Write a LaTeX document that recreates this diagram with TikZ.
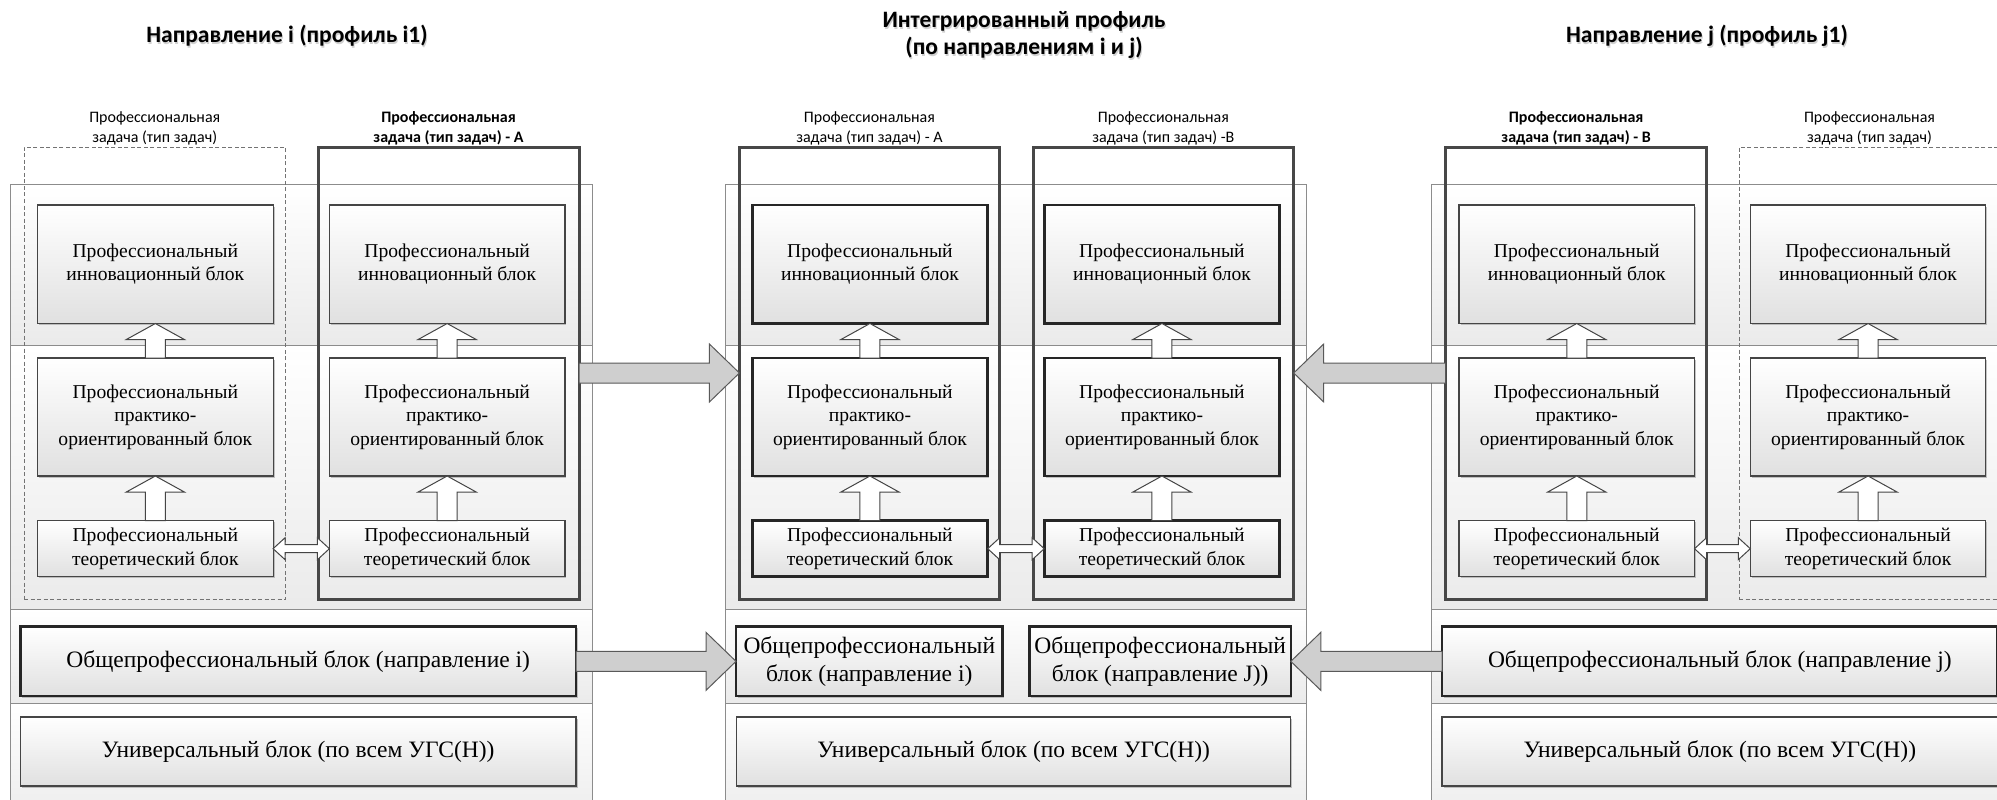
\documentclass[tikz,border=0pt]{standalone}
\usepackage{fontspec}
\setmainfont{Liberation Serif}
\newfontfamily\calfont{Carlito}
\usetikzlibrary{calc,shadows}
\definecolor{edgec}{HTML}{454545}
\definecolor{paneledge}{HTML}{8C8C8C}
\definecolor{arrowfill}{HTML}{CFCFCF}
\tikzset{
  panelrow/.style={draw=paneledge, line width=1pt, top color=white, bottom color=black!8},
  blk/.style={draw=edgec, line width=1.2pt, top color=white, bottom color=black!12,
    inner sep=0pt, outer sep=0pt, align=center, minimum width=235.5pt,
    font=\fontsize{19.6}{23.5}\selectfont,
    drop shadow={shadow xshift=1.5pt, shadow yshift=-1.5pt, fill=black!45, opacity=0.5}},
  thickblk/.style={blk, draw=black!85, line width=2.6pt},
  opblk/.style={thickblk, font=\fontsize{23.5}{28}\selectfont},
  uniblk/.style={blk, font=\fontsize{23.5}{28}\selectfont},
  boldcol/.style={draw=black!72, line width=3pt, inner sep=0pt, outer sep=0pt, minimum height=452pt},
  dashcol/.style={draw=black!55, line width=1pt, dash pattern=on 4pt off 2.5pt, inner sep=0pt, outer sep=0pt, minimum height=452pt},
  lbl/.style={font=\calfont\fontsize{16}{19.5}\selectfont, align=center, inner sep=0pt},
  blbl/.style={lbl, font=\calfont\bfseries\fontsize{16}{19.5}\selectfont},
  ttl/.style={font=\calfont\bfseries\fontsize{23.5}{27}\selectfont, align=center, inner sep=0pt},
  ttlshadow/.style={ttl, text=black!18},
  uparrow/.style={draw=edgec, line width=1pt, fill=white},
  bigarrow/.style={draw=black!65, line width=1pt, fill=arrowfill},
}
\newcommand\uparr[2]{%
  \draw[uparrow] let \p1=(#2.south), \p2=(#1.north) in
   (\x1,\y1) -- (\x1+29pt,\y1-16pt) -- (\x1+10pt,\y1-16pt) -- (\x1+10pt,\y2)
   -- (\x1-10pt,\y2) -- (\x1-10pt,\y1-16pt) -- (\x1-29pt,\y1-16pt) -- cycle;}
\newcommand\dblarr[2]{%
  \draw[uparrow] let \p1=(#1.east), \p2=(#2.west) in
   (\x1,\y1) -- (\x1+12pt,\y1+11pt) -- (\x1+12pt,\y1+4pt) -- (\x2-12pt,\y1+4pt)
   -- (\x2-12pt,\y1+11pt) -- (\x2,\y1) -- (\x2-12pt,\y1-11pt) -- (\x2-12pt,\y1-4pt)
   -- (\x1+12pt,\y1-4pt) -- (\x1+12pt,\y1-11pt) -- cycle;}
\newcommand\bigarr[3]{% #1 from, #2 to, #3 direction (+1 right, -1 left)
  \draw[bigarrow] let \p1=(#1), \p2=(#2) in
   (\x1,\y1+10pt) -- (\x2-#3*30pt,\y1+10pt) -- (\x2-#3*30pt,\y1+29pt) -- (\x2,\y1)
   -- (\x2-#3*30pt,\y1-29pt) -- (\x2-#3*30pt,\y1-10pt) -- (\x1,\y1-10pt) -- cycle;}
\newcommand\pcolumn[3]{% #1 prefix, #2 left x, #3 style
  \node[#3, anchor=north west, minimum height=118.5pt] (#1i) at (#2,205) {Профессиональный\\инновационный блок};
  \node[#3, anchor=north west, minimum height=118pt] (#1p) at (#2,358) {Профессиональный\\практико-\\ориентированный блок};
  \node[#3, anchor=north west, minimum height=56pt] (#1t) at (#2,520.7) {Профессиональный\\теоретический блок};
  \uparr{#1p}{#1i}
  \uparr{#1t}{#1p}}
\begin{document}
\begin{tikzpicture}[x=1pt,y=-1pt]
\useasboundingbox (0,0) rectangle (1997,800);
\clip (0,0) rectangle (1997,800);
\fill[white] (0,0) rectangle (1997,800);
% panels
\foreach \a/\b in {10/592.5, 725.7/1306, 1431/2014} {
  \draw[panelrow] (\a,184.5) rectangle (\b,345);
  \draw[panelrow] (\a,345) rectangle (\b,609.5);
  \draw[panelrow] (\a,609.5) rectangle (\b,703);
  \draw[panelrow] (\a,703) rectangle (\b,830);
}
% titles
\node[ttlshadow] (tLs) at (288,37.5) {Направление i (профиль i1)};
\node[ttl] (tL) at (287,35.5) {Направление i (профиль i1)};
\node[ttlshadow] (tCs) at (1025,37) {Интегрированный профиль\\(по направлениям i и j)};
\node[ttl] (tC) at (1024,35) {Интегрированный профиль\\(по направлениям i и j)};
\node[ttlshadow] (tRs) at (1708,37.5) {Направление j (профиль j1)};
\node[ttl] (tR) at (1707,35.5) {Направление j (профиль j1)};
% column boxes
\node[dashcol, anchor=north west, minimum width=261.5pt] (colL1) at (24,147) {};
\node[boldcol, anchor=north west, minimum width=261pt] (colL2) at (318,147) {};
\node[boldcol, anchor=north west, minimum width=260pt] (colCA) at (739.4,147) {};
\node[boldcol, anchor=north west, minimum width=260.7pt] (colCB) at (1033,147) {};
\node[boldcol, anchor=north west, minimum width=260.8pt] (colR1) at (1445.7,147) {};
\node[dashcol, anchor=north west, minimum width=261pt] (colR2) at (1739,147) {};
% column labels
\node[lbl, anchor=south] (lL1) at ($(colL1.north)+(0,-2)$) {Профессиональная\\задача (тип задач)};
\node[blbl, anchor=south] (lL2) at ($(colL2.north)+(0,-2)$) {Профессиональная\\задача (тип задач) - А};
\node[lbl, anchor=south] (lCA) at ($(colCA.north)+(0,-2)$) {Профессиональная\\задача (тип задач) - А};
\node[lbl, anchor=south] (lCB) at ($(colCB.north)+(0,-2)$) {Профессиональная\\задача (тип задач) -В};
\node[blbl, anchor=south] (lR1) at ($(colR1.north)+(0,-2)$) {Профессиональная\\задача (тип задач) - В};
\node[lbl, anchor=south] (lR2) at ($(colR2.north)+(0,-2)$) {Профессиональная\\задача (тип задач)};
% blocks
\pcolumn{L1}{37.6}{blk}
\pcolumn{L2}{329.4}{blk}
\pcolumn{CA}{752.2}{thickblk}
\pcolumn{CB}{1044.2}{thickblk}
\pcolumn{R1}{1459}{blk}
\pcolumn{R2}{1750.3}{blk}
\dblarr{L1t}{L2t}
\dblarr{CAt}{CBt}
\dblarr{R1t}{R2t}
% bottom blocks
\node[opblk, anchor=north west, minimum width=555.6pt, minimum height=69.3pt] (opL) at (20.4,626.7) {Общепрофессиональный блок (направление i)};
\node[uniblk, anchor=north west, minimum width=555.6pt, minimum height=69pt] (uniL) at (20.4,717) {Универсальный блок (по всем УГС(Н))};
\node[opblk, anchor=north west, minimum width=266.6pt, minimum height=69.3pt] (opCi) at (736,626.7) {Общепрофессиональный\\блок (направление i)};
\node[opblk, anchor=north west, minimum width=261.2pt, minimum height=69.3pt] (opCj) at (1029.6,626.7) {Общепрофессиональный\\блок (направление J))};
\node[uniblk, anchor=north west, minimum width=554.3pt, minimum height=69pt] (uniC) at (736.5,717) {Универсальный блок (по всем УГС(Н))};
\node[opblk, anchor=north west, minimum width=555.6pt, minimum height=69.3pt] (opR) at (1442,626.7) {Общепрофессиональный блок (направление j)};
\node[uniblk, anchor=north west, minimum width=555.6pt, minimum height=69pt] (uniR) at (1442,717) {Универсальный блок (по всем УГС(Н))};
% big arrows
\bigarr{colL2.east}{colCA.west}{1}
\bigarr{opL.east}{opCi.west}{1}
\bigarr{colR1.west}{colCB.east}{-1}
\bigarr{opR.west}{opCj.east}{-1}
\end{tikzpicture}
\end{document}
